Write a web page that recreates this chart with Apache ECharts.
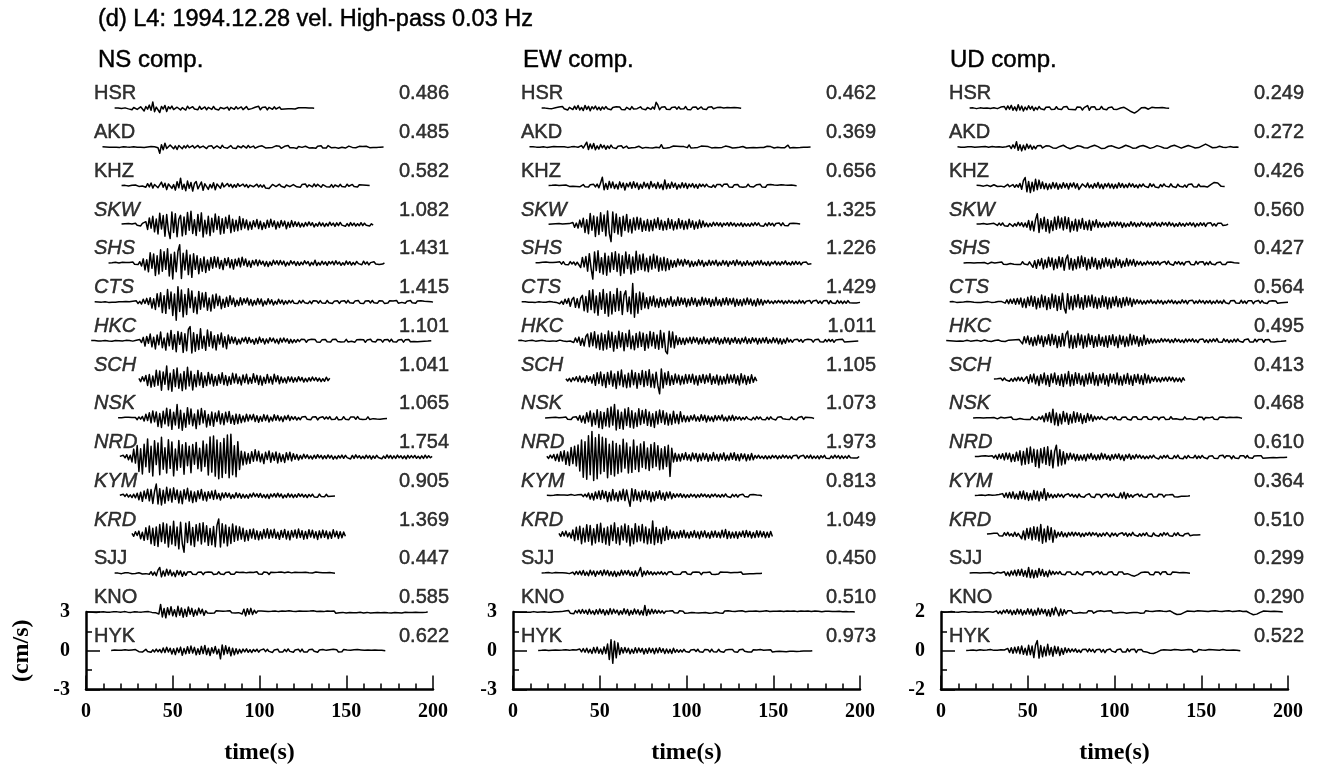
<!DOCTYPE html>
<html>
<head>
<meta charset="utf-8">
<script src="https://cdn.jsdelivr.net/npm/echarts@6/dist/echarts.min.js"></script>
<style>
html, body { margin: 0; padding: 0; background: #ffffff; }
#chart { width: 1317px; height: 767px; }
</style>
</head>
<body>
<div id="chart"></div>
<script>
// Stations, top to bottom
const stations = ['HSR','AKD','KHZ','SKW','SHS','CTS','HKC','SCH','NSK','NRD','KYM','KRD','SJJ','KNO','HYK'];
const italicStations = ['SKW','SHS','CTS','HKC','SCH','NSK','NRD','KYM','KRD'];
// Record start time (s) of each station, and the sample spacing of the traces (s)
const startTimes = [16.5, 9.5, 20.5, 20.5, 13, 5, 3, 30.5, 18.5, 19.5, 19.5, 26.5, 16.5, 0, 14.5];
const sampleStep = 1;
// Time axis
const timeMin = 0, timeMax = 200, timeTick = 50;
// Trace spacing / scale-bar value (cm/s) per component
const nsUnit = 3, ewUnit = 3, udUnit = 2;

// Peak velocity (cm/s) of each trace
const nsPeak = [0.486, 0.485, 0.582, 1.082, 1.431, 1.415, 1.101, 1.041, 1.065, 1.754, 0.905, 1.369, 0.447, 0.585, 0.622];
const ewPeak = [0.462, 0.369, 0.656, 1.325, 1.226, 1.429, 1.011, 1.105, 1.073, 1.973, 0.813, 1.049, 0.450, 0.510, 0.973];
const udPeak = [0.249, 0.272, 0.426, 0.560, 0.427, 0.564, 0.495, 0.413, 0.468, 0.610, 0.364, 0.510, 0.299, 0.290, 0.522];

// Velocity traces, in 0.01 cm/s, one sample every sampleStep seconds from the station start time
// ---- NS component ----
const nsHSR = [1,-3,2,4,-2,-4,3,1,-5,8, -12,6,15,-9,-18,11,4,-21,13,-7, 24,-16,48.6,-27,9,19,-33,14,-6,22, -25,12,-4,17,-10,-15,8,11,-13,5, 9,-14,16,-3,-9,12,-6,4,-11,15, -8,-5,10,-12,7,3,-9,14,-6,8, -13,6,11,-4,-10,9,-15,7,2,-8, 12,-5,-7,10,-11,4,13,-9,6,-3, -10,8,-4,15,-12,5,-6,9,-13,7, 3,-8,11,-6,-2,9,-7,4,-5,6, -4,7,-3,5,-6,2,4,-5,3,-2, 4,-3,2,-4,1,0];
const nsAKD = [1,-2,0,2,-1,3,-2,1,-1,2, -3,1,2,-2,0,3,-1,-2,2,1, -2,3,-1,2,-3,1,0,-2,3,-1, 2,4,-6,-48.5,18,-22,29,-11,-25,16, 21,-14,8,-19,12,6,-13,9,-7,14, -5,-10,11,-8,4,12,-6,-9,7,10, -12,5,-4,9,-11,3,8,-6,-10,13, -3,6,-9,2,11,-7,5,-12,8,1, -6,10,-4,-8,12,-5,3,7,-9,6, 4,-11,9,-2,-7,8,-5,10,-3,-6, 9,-4,6,-10,3,5,-8,11,-6,2, -5,8,-12,4,7,-3,-9,6,10,-7, 3,-5,8,-10,6,-2,9,-7,4,-8, 11,-4,-6,7,-3,9,-10,5,-2,6, -8,4,7,-5,-3,8,-6,2,5,-7, 3,-4,6,-2,-5,4,-3,5,-4,2, -1,2,0];
const nsKHZ = [2,-4,3,5,-2,-5,4,-1,6,-3, -5,7,-2,4,-12,16,-9,21,-18,10, 24,-15,-22,28,-11,19,-30,14,26,-20, 9,-34,31,-16,58.2,-27,12,-38,36,-19, 25,-41,17,33,-24,-12,29,-35,15,21, -28,10,-17,24,-31,13,6,-19,22,-9, -14,18,-6,11,-15,8,-12,16,-4,-10, 13,-7,9,-14,5,11,-8,-3,12,-10, 7,-11,6,-18,-30,-22,-8,10,14,-6, -9,12,-4,8,-13,6,10,-7,-11,9, 15,-8,4,-12,9,-5,13,-10,7,-3, -9,14,-6,11,-4,-12,8,16,-7,5, -10,9,-13,6,3,-8,11,-5,7,-9, 12,-4,-7,10,-6,5,-9,8,-3,6, -5,4,-3,2];
const nsSKW = [3,-5,6,-2,8,-7,4,-9,10,-6, 7,-11,9,-4,22,-38,51,-29,64,-57, 42,-73,88,-35,69,-91,77,-48,-108.2,96, -62,83,-94,41,71,-88,59,-77,93,-44, 102,-69,37,-85,78,-51,90,-96,33,-72, 64,-86,49,-58,81,-38,62,-74,45,-67, 56,-29,71,-63,40,-52,33,-48,61,-39, 44,-27,35,-41,20,-36,29,-18,38,-31, 26,-39,14,-30,33,-22,40,-15,28,-35, 19,-24,31,-12,26,-33,17,-21,30,-16, 22,-14,18,-20,9,-17,15,-11,20,-8, 14,-19,6,-13,17,-10,12,-16,8,-12, 18,-7,11,-15,13,-9,16,-5,10,-14, 7,-12,15,-8,11,-13,6,-10,14,-9, 10,-6,8,-11,5,-4];
const nsSHS = [2,-5,4,-3,7,-4,2,-6,8,-3, 5,-9,6,-4,9,-7,3,-10,12,-21, 34,-52,28,-66,81,-39,72,-95,58,-83, 104,-61,89,-47,112,-98,70,-121,85,-66, 93,143.1,-118,77,-52,101,-88,64,-109,73, -47,58,-81,35,-62,49,-71,26,-54,44, -38,51,-29,46,-40,22,-49,37,-18,42, -34,27,-45,31,-20,39,-28,47,-15,33, -26,18,-31,22,-12,27,-19,24,-9,16, -21,14,-25,11,-17,23,-8,19,-13,21, -10,17,-22,8,-15,20,-6,14,-18,12, -16,9,-11,19,-4,13,-20,7,-12,24, -18,6,-14,16,-9,11,-17,13,-5,15, -12,19,-7,10,-16,4,-13,17,-8,12, -15,6,-11,14,-3,9,-12,16,-7,10, -13,5,-9,12,-6,8,-10,4,-6,3];
const nsCTS = [1,-2,0,3,-1,-2,2,1,-3,2, -1,3,-2,0,2,-3,1,-1,3,-2, 2,-4,6,-3,9,-12,5,-16,21,-11, 28,-19,33,-47,25,-58,64,-36,71,-82, 49,-88,96,-52,77,-104,61,-141.5,118,-73, 92,-115,58,-97,103,-44,86,-79,37,-91, 82,-56,69,-38,74,-63,31,-70,55,-47, 62,-28,45,-52,22,-41,37,-33,49,-19, 30,-35,14,-27,33,-22,26,-9,31,-24, 19,-29,11,-21,27,-16,23,-31,8,-20, 25,-13,18,-24,6,-17,21,-11,15,-19, 9,-14,12,-7,13,-10,4,-12,11,-8, 13,-5,9,-11,7,-13,10,-3,8,-9, 11,-7,3,-10,12,-6,8,-12,5,-4, 9,-11,6,-2,10,-8,13,-6,4,-10, 7,-3,11,-9,5,-12,8,-4,9,-7, 12,-6,4,-9,10,-5,7,-11,3,-8, 10,-4,8,-7,12,-9,5,-3,9,-10, 6,-8,11,-5,3,-9,7,-6,10,-4, 5,-7,4,-3,2,-1];
const nsHKC = [1,-3,2,0,-2,4,-1,-3,2,1, -2,3,-4,1,2,-3,0,4,-2,-1, 3,-4,2,5,-3,-1,4,-6,9,-14, 26,-41,33,-19,52,-47,28,-63,44,-31, 67,-54,21,-72,58,-39,80,-66,47,-85, 71,-28,63,-90,54,-77,88,110.1,-95,62, -81,49,-67,92,-58,35,-74,83,-42,69, -55,38,-71,47,-26,60,-49,31,-62,44, -22,30,-17,26,-29,12,-24,21,-8,27, -19,25,-14,9,-27,18,-21,28,-11,16, -25,13,-18,23,-6,20,-16,12,-24,19, -12,21,-9,15,-20,11,-17,8,-13,10, -7,11,-4,9,-12,6,-8,12,-3,10, -9,5,-11,7,-2,10,-8,4,-10,9, -6,12,-5,8,-10,3,-7,11,-9,6, -4,9,-11,7,-6,10,-3,8,-12,5, -8,11,-6,4,-9,10,-5,7,-11,8, -3,9,-7,12,-8,5,-10,6,-4,9, -11,7,-5,10,-8,3,-6,9,-7,4, -5,6,-3,4,-2,1,0];
const nsSCH = [8,-17,22,-12,31,-46,38,-59,27,-52, 71,-44,66,-83,58,-37,104.1,-79,48,-91, 76,-55,89,-68,42,-86,61,-73,95,-50, 64,-81,37,-56,70,-43,52,-61,28,-47, 55,-33,41,-50,24,-45,36,-28,52,-39, 30,-46,21,-37,48,-26,43,-31,19,-42, 35,-23,40,-34,16,-29,45,-21,32,-38, 27,-44,18,-30,39,-25,22,-35,41,-17, 29,-33,20,-24,12,-27,22,-15,19,-21, 13,-18,22,-10,16,-20,9,-17,14,-12, 19,-8,15,-13,11,-17,6,-14,18,-9, 10];
const nsNSK = [3,-6,4,-2,7,-5,8,-3,6,-9, 5,-11,10,-7,14,-22,31,-18,42,-35, 57,-28,49,-64,36,-71,54,-43,78,-59, 68,-86,47,-52,106.5,-77,61,-93,38,-69, 82,-45,71,-58,33,-80,64,-49,75,-36, 58,-67,29,-54,48,-62,40,-25,57,-44, 35,-50,46,-28,53,-39,21,-47,32,-41, 29,-34,18,-27,31,-22,26,-12,30,-25, 20,-31,14,-23,28,-17,24,-29,9,-21, 27,-15,22,-19,11,-26,17,-10,23,-18, 13,-9,12,-14,6,-11,10,-4,13,-8, 7,-12,9,-5,11,-13,4,-9,12,-7, 10,-6,13,-10,5,-8,11,-12,3,-9, 12,-7,6,-11,9,-4,10,-8,13,-5, 8,-10,4,-7,11,-9,6,-3,9,-6, 5,-8,3,-4,6,-2];
const nsNRD = [5,-9,13,-6,18,-22,14,-38,61,-47, 89,-112,64,-131,98,-76,140,-118,83,-147, 126,-59,109,-138,152,-95,71,-124,133,-88, 117,-146,61,-102,128,-79,95,-134,111,-68, 84,-121,97,-56,113,-90,67,-109,124,-73, 98,-139,155,-117,162,-148,131,-169,110,-158, 144,-126,170,-161,175.4,-137,88,-152,119,-96, 45,-62,38,-54,27,-49,41,-33,56,-29, 44,-37,23,-51,36,-19,47,-40,31,-25, 39,-46,28,-35,18,-42,33,-21,37,-30, 26,-17,19,-24,12,-15,21,-9,17,-13, 8,-16,14,-11,18,-7,13,-15,10,-12, 16,-9,12,-17,6,-14,11,-8,15,-10, 13,-5,9,-15,12,-11,17,-7,10,-13, 6,-12,14,-9,11,-16,8,-10,13,-4, 11,-14,7,-10,16,-8,12,-13,9,-11, 15,-6,10,-12,8,-15,13,-9,11,-7, 12,-10,6,-13,9,-11,14,-8,10,-6, 5];
const nsKYM = [4,-8,11,-5,13,-10,7,-14,12,-16, 20,-31,27,-43,36,-22,51,-39,48,-60, 33,90.5,-64,55,-71,42,-58,66,-37,52, -49,61,-28,45,-56,34,-62,47,-25,58, -41,36,-53,29,-45,38,-22,49,-34,27, -40,31,-19,36,-28,42,-24,17,-33,21, -15,24,-11,19,-22,9,-18,23,-13,17, -20,12,-16,8,-19,14,-10,21,-7,15, -12,18,-14,9,-17,11,-22,13,-8,16, -11,20,-9,14,-18,6,-13,17,-10,12, -15,9,-12,16,-6,13,-11,8,-14,10, -7,12,-9,6,-11,13,-5,9,-8,11, -6,8,-4,5,-2];
const nsKRD = [9,-14,21,-8,26,-33,17,-45,52,-38, 66,-71,48,-84,59,-92,77,-55,90,-68, 81,-97,63,-74,103,-86,58,-111,94,-70, -136.9,88,-62,99,-81,54,-93,76,-49,85, -73,91,-57,68,-84,47,-79,62,-95,71, 120,-96,83,-65,74,-88,57,-70,81,-53, 66,-44,59,-35,48,-52,31,-46,39,-27, 43,-36,28,-41,22,-33,38,-25,44,-30, 35,-24,40,-29,18,-37,31,-22,39,-34, 26,-41,30,-19,35,-28,42,-23,29,-36, 24,-31,37,-20,33,-27,21,-38,28,-25, 34,-22,27,-33,19,-29,36,-18,25,-30, 22,-26,19,-14];
const nsSJJ = [2,-4,1,5,-3,-2,4,-5,3,1, -4,6,-2,-5,4,2,-6,5,-3,7, -8,12,-15,9,-19,24,44.7,-28,17,-22, 31,-14,25,-19,8,-26,21,-12,18,-24, 10,-16,9,-6,11,-8,4,-10,7,-3, 9,-11,5,-7,10,-4,8,-9,3,-6, 11,-5,7,-10,6,-2,9,-8,4,-7, 10,-3,6,-9,8,-5,3,-10,7,-4, 5,-8,11,-6,2,-7,9,-4,6,-10, 8,-3,5,-9,7,-6,10,-2,4,-8, 9,-5,3,-7,8,-4,6,-9,5,-3, 7,-6,4,-8,2,-5,9,-4,6,-7, 3,-5,4,-2,5,-3,2,0];
const nsKNO = [1,-2,0,2,-1,1,-3,2,0,-1, 2,-1,-2,3,-1,0,2,-3,1,2, -2,1,3,-2,-1,2,-3,1,2,-2, 0,3,-1,-2,2,-4,3,1,-3,2, -5,9,-16,58.5,-38,27,-45,33,-21,41, -29,18,-36,44,-25,31,-40,22,-34,39, -17,28,-33,15,-24,30,-12,21,-26,9, -8,6,-10,4,-7,9,-3,8,-6,5, -9,7,-4,10,-6,3,-8,6,-5,9, -15,22,-30,26,-18,28,-20,14,-9,7, -5,8,-3,6,-9,4,-7,5,-2,8, -6,3,-8,7,-4,6,-5,9,-3,5, -7,4,-6,8,-2,5,-9,6,-4,7, -3,9,-5,4,-7,6,-8,3,-5,8, -6,5,-2,7,-9,4,-5,6,-3,5, -8,6,-4,3,-6,8,-5,7,-2,4, -7,5,-3,6,-8,4,-6,9,-4,5, -5,7,-3,4,-6,5,-8,3,-4,6, -5,3,-7,4,-2,6,-4,5,-3,4, -2,3,-4,2,-3,1,-2,1];
const nsHYK = [2,-4,5,-1,3,-6,4,-2,7,-5, 3,-8,6,-4,9,-3,-7,8,-10,5, 11,-6,9,-12,7,-9,13,-8,10,-15, 21,-14,27,-10,19,-25,16,-30,22,-13, 28,-35,18,-24,31,-20,36,-17,26,-32, 15,-27,34,-22,41,-29,19,-37,24,-18, 33,-26,12,-62.2,45,-30,38,-21,27,-39, 20,-31,16,-24,11,-17,13,-9,15,-12, 8,-14,10,-6,12,-11,5,-9,13,-7, 11,-5,9,-13,6,-8,12,-10,4,-9, 10,-7,14,-5,8,-12,6,-4,11,-8, 13,-9,5,-10,7,-6,12,-4,9,-11, 6,-8,10,-5,3,-9,7,-6,11,-4, 8,-10,5,-7,9,-3,6,-8,4,-6, 7,-5,9,-4,6,-7,3,-8,5,-6, 4,-5,6,-3,4,-2,3,-1,0];

// ---- EW component ----
const ewHSR = [2,-3,1,4,-2,5,-3,-1,4,-2, 9,-6,13,-4,11,-14,7,19,-10,16, -8,21,-13,6,-18,22,-9,15,-20,12, -5,17,-12,8,-15,10,-7,13,-4,9, -11,6,-8,12,-3,10,-9,5,-12,7, 4,-10,13,-6,9,-3,-8,11,-5,8, -12,6,3,-9,10,-7,46.2,24,-11,7, -5,12,-8,4,-10,6,-3,9,-7,11, -6,8,-4,13,-9,5,-11,7,-2,9, -8,4,10,-6,3,-9,7,-5,12,-4, -6,5,-3,7,-5,2,-4,6,-2,4, -3,5,-2,3,-1,0];
const ewAKD = [1,-2,2,0,-1,3,-2,1,2,-1, -3,2,0,-2,3,-1,2,-3,1,0, 2,-1,-3,2,1,-2,3,-1,-2,2, 11,-8,14,36.9,-19,24,-12,27,-21,9, -16,20,-7,13,-18,8,-11,15,-5,10, -12,6,-3,9,-8,4,7,-10,5,-6, 8,-4,-7,6,2,-9,5,-3,8,-6, 3,-8,6,-2,7,-5,18,-9,4,-7, 6,-3,-5,8,-2,6,-8,4,-6,3, 9,-5,16,-7,4,-6,8,-3,-5,7, -2,6,-8,3,5,-7,2,-4,8,-6, 4,-3,-6,7,-4,2,5,-8,3,-5, 7,-2,-6,4,16,-8,3,-5,7,-4, 2,-6,5,-3,8,-4,-2,6,-7,3, 5,-8,3,-2,7,-5,4,-6,2,14, -7,4,-3,6,-5,2,-4,3,-2,1, -2,1,0];
const ewKHZ = [2,-4,3,-1,5,-3,2,-6,4,-2, 6,-3,-5,7,-4,8,-6,3,-8,5, 9,-7,4,-10,8,-5,11,-9,13,-16, 24,65.6,-31,18,-27,34,-15,29,-22,11, -25,30,-13,21,-33,17,-8,26,-19,31, -14,22,-28,12,-20,27,-10,18,-24,33, -9,15,-21,26,-17,11,-30,45,-23,16, -19,28,-12,20,-26,9,-17,24,-14,19, -22,13,-8,17,-15,10,-20,14,-6,11, -9,12,-5,8,-11,6,-13,9,-3,10, -7,11,-4,13,-9,5,-12,7,-2,10, -8,6,-11,4,-7,12,-5,9,-10,3, 8,-6,11,-9,4,-12,7,-5,10,-3, 6,-9,4,-7,8,-2,5,-6,3,-4, 5,-3,2,-1];
const ewSKW = [2,-5,4,-1,6,-3,7,-5,3,-8, 5,-9,7,-4,16,-22,11,-28,34,-19, 48,-62,37,-71,85,-44,66,-93,58,-77, 91,-52,73,-88,104,-69,-132.5,97,-61,82, -74,55,-90,63,-46,78,-58,39,-66,51, -42,57,-35,49,-53,28,-45,38,-51,31, -47,40,-26,52,-37,33,-44,24,-39,46, -29,36,-42,21,-34,45,-27,31,-38,25, -33,41,-22,28,-36,19,-30,34,-24,27, -16,12,-18,9,-14,17,-8,15,-11,13, -17,10,-6,14,-12,16,-9,11,-15,7, -10,13,-16,8,-12,6,-14,11,-9,15, -7,12,-10,5,-13,9,-11,14,-6,10, -12,8,-5,11,-9,13,-7,4,-10,8, -6,9,-4,7,-5,3];
const ewSHS = [3,-6,4,-2,7,-5,9,-4,6,-8, 5,-10,8,-3,11,-7,12,-9,4,-11, 13,-6,10,-14,8,21,-33,45,-28,52, -61,74,-39,-122.6,88,-57,96,-71,43,-84, 77,-92,55,-68,81,-47,89,-63,72,-95, 58,-76,87,-41,66,-83,49,-71,92,-54, 63,-48,71,-59,38,-66,54,-45,69,-36, 57,-62,41,-53,46,-58,35,-49,24,-31, 19,-27,33,-14,25,-21,30,-9,22,-28, 16,-24,11,-19,26,-13,21,-25,8,-17, 23,-15,18,-11,24,-20,9,-16,22,-12, 17,-23,13,-8,20,-18,25,-10,14,-21, 11,-16,19,-13,7,-22,15,-9,18,-14, 21,-12,8,-17,14,-19,10,-6,16,-13, 9,-15,12,-7,18,-11,6,-14,13,-10, 15,-8,11,-13,6,-9,10,-7,5,-4];
const ewCTS = [1,-3,2,0,-2,3,-1,2,-3,1, 2,-2,-1,3,-2,1,4,-3,0,2, -3,8,-13,6,-18,22,-11,27,-33,19, 36,-41,25,-45,31,51,-67,42,-78,88, -59,94,-83,47,-102,71,-56,97,-88,64, -109,79,-93,58,-71,104,-66,82,-97,53, 86,-74,39,-91,142.9,-118,66,-87,77,-58, 69,-45,33,-51,40,-28,46,-37,24,-42, 35,-30,19,-38,27,-22,41,-33,16,-29, 38,-25,31,-17,29,-36,22,-27,34,-20, 28,-33,15,-26,37,-21,30,-18,25,-35, 20,-28,36,-24,17,-31,27,-19,33,-23, 26,-16,29,-34,21,-25,18,-30,24,-20, 31,-18,23,-27,14,-32,26,-21,19,-24, 12,-9,14,-11,7,-13,10,-8,12,-6, 11,-14,8,-10,13,-7,9,-12,5,-11, 14,-8,10,-13,6,-9,12,-11,8,-7, 13,-10,7,-12,9,-5,11,-14,10,-8, 6,-11,12,-9,8,-13,7,-10,11,-6, 9,-7,5,-8,4,-3];
const ewHKC = [1,-2,3,0,-3,2,1,-2,4,-1, -3,2,0,-4,3,1,-2,4,-3,2, -1,3,-4,2,5,-3,-2,4,-5,3, -2,9,-14,21,-11,28,-35,17,-40,33, 52,-46,61,-38,70,-55,44,-67,58,-72, 47,-63,75,-51,66,-80,39,-59,73,-48, 62,-77,54,-45,81,-61,36,-70,57,-52, 68,-43,59,-74,48,-56,71,-39,63,-58, 45,-66,79,-53,60,-82,-101.1,74,-49,67, -56,38,-30,24,-27,19,-29,22,-15,26, -21,28,-12,23,-26,17,-24,29,-19,14, -25,20,-11,27,-18,24,-28,13,-22,26, -16,21,-27,18,-13,25,-20,15,-24,19, -12,28,-22,16,-19,23,-9,20,-25,17, -18,22,-14,25,-20,11,-17,24,-13,19, -23,16,-26,12,-20,21,-10,9,-12,7, -8,11,-6,10,-12,5,-9,11,-4,8, -11,7,-5,12,-8,4,-10,9,-7,11, -6,10,-12,5,-8,9,-4,11,-9,6, -7,8,-5,6,-3,2,-1];
const ewSCH = [6,-12,9,-17,14,-8,21,-15,26,-19, 11,-24,29,-13,22,-28,36,-45,52,-31, 58,-47,39,-62,55,-36,66,-51,43,-70, 61,-42,73,-56,35,-64,49,-58,71,-40, 53,-67,46,-38,69,-55,62,-44,75,-59, 41,-63,57,-48,-110.5,82,-66,51,-38,61, -45,29,-37,42,-26,34,-40,25,-33,38, -28,36,-22,41,-35,27,-43,31,-24,39, -30,33,-19,44,-37,23,-29,35,-41,26, -36,21,-32,40,-27,34,-22,38,-31,28, -42,45,-26,32,-38,24,-29,36,-21,17, -13];
const ewNSK = [2,-5,4,-1,6,-3,7,-5,3,-8, 6,-4,9,-7,5,-10,8,-6,11,-15, 21,-30,18,-38,42,-27,56,-61,39,-48, 66,-72,51,-80,45,-59,76,-67,88,-53, 107.3,-91,64,-78,47,-85,71,-56,82,-69, 58,-76,41,-64,73,-49,60,-38,67,-55, 49,-62,35,-71,52,-44,63,-33,58,-46, 40,-53,31,-48,55,-36,29,-42,50,-27, 22,-28,15,-25,19,-13,26,-21,12,-24, 27,-16,23,-29,18,-20,11,-25,21,-14, 20,-12,25,-19,9,-22,17,-15,24,-18, 13,-8,11,-14,6,-10,12,-5,9,-13, 7,-11,13,-6,10,-9,4,-12,8,-10, 11,-5,9,-13,7,-8,12,-4,10,-7, 5,-9,11,-6,8,-12,6,-7,13,-9, 8,-5,6,-4,3,-2];
const ewNRD = [5,-11,14,-8,19,-27,22,-34,41,-30, 48,-57,39,-66,73,-51,84,-69,92,-108, 131,-156,118,-172,164,-137,197.3,-181,149,-168, 175,-129,152,-111,143,-160,98,-135,122,-147, 104,-128,91,-115,137,-86,109,-124,77,-119, 132,-95,84,-113,101,-79,118,-90,69,-105, 96,-82,111,-71,88,-99,64,-93,80,-74, 91,-150,67,-38,29,-33,22,-31,26,-19, 34,-24,18,-29,31,-15,27,-35,21,-28, 30,-20,25,-33,17,-26,35,-22,19,-31, 24,-17,32,-27,14,-23,29,-18,33,-25, 20,-29,26,-13,23,-30,18,-24,27,-21, 12,-9,14,-11,7,-13,10,-15,8,-12, 13,-6,11,-14,9,-10,15,-7,12,-11, 8,-13,10,-5,14,-12,6,-9,13,-10, 11,-8,15,-12,7,-11,9,-14,10,-6, 13,-10,5,-12,8,-9,14,-7,11,-13, 9,-11,7,-10,12,-6,9,-8,5,-7, 4];
const ewKYM = [3,-5,2,-6,4,-1,7,-4,5,-3, 6,-8,4,-7,9,-5,3,-9,8,-6, 10,-7,12,-9,21,-26,18,-33,29,-22, 37,-28,41,-19,33,-45,26,-38,48,-31, 24,-42,35,-29,50,-37,44,-26,-81.3,55, -38,47,-33,28,-44,36,-23,41,-30,33, -46,25,-37,31,-20,39,-28,22,-35,27, -18,30,-24,15,-12,14,-9,16,-13,11, -15,8,-12,13,-7,10,-14,9,-11,15, -6,12,-10,8,-14,11,-5,13,-9,7, -12,10,-8,14,-6,9,-13,11,-7,10, -11,6,-9,12,-5,8,-10,7,-4,9, -6,5,-3,4,-2];
const ewKRD = [9,-15,21,-11,26,-18,13,-28,35,-47, 56,-39,64,-71,48,-58,75,-52,69,-81, 44,-66,78,-55,87,-61,49,-74,58,-83, 72,-47,90,-68,53,-79,65,-42,81,-59, 67,-88,46,-71,84,-56,63,-49,77,-64, 58,-72,43,-67,104.9,-78,55,-61,39,-70, 51,-46,62,-38,35,-29,24,-31,18,-27, 29,-21,33,-25,16,-28,22,-19,30,-24, 20,-32,26,-17,28,-23,14,-30,25,-19, 27,-22,18,-26,33,-20,38,-31,24,-28, 17,-25,21,-30,19,-15,27,-22,31,-18, 23,-27,16,-24,29,-20,26,-17,22,-25, 18,-21,24,-15];
const ewSJJ = [2,-4,3,-1,5,-3,1,-4,6,-2, 3,-5,4,-6,2,5,-3,4,8,-11, 14,-9,17,-13,21,-16,10,-19,23,-12, 18,-24,15,-8,20,-17,25,-11,22,-19, 13,-21,16,-25,9,-18,24,-14,19,-10, 22,-17,12,-23,18,-20,11,45,-26,15, -14,19,-9,12,-13,8,-11,10,-6,13, -10,7,-12,9,-5,11,-8,6,-10,4, -7,9,-4,11,-6,3,-9,8,-5,10, -3,7,-11,5,-8,6,-4,9,-7,5, -9,4,-6,10,-5,7,-3,8,-6,4, -8,5,-10,6,-4,9,-7,3,-5,7, -4,6,-3,5,-2,3,-1,0];
const ewKNO = [1,-2,0,2,-1,3,-2,1,-1,2, -2,1,3,-1,-2,2,0,-3,2,1, -1,3,-2,1,2,-3,1,-1,3,-2, 8,-5,12,-9,6,-14,11,-7,16,-12, 19,-10,14,-18,22,-13,9,-20,17,-15, 24,-11,18,-23,13,-19,26,-16,21,-9, 15,-22,10,-17,25,-14,20,-26,12,-18, 23,-13,17,-21,11,-24,51,-27,19,-15, 22,-12,16,-10,13,-8,9,-11,5,-9, 7,-4,10,-6,3,-8,9,-5,6,-10, 4,-7,8,-3,9,-6,2,-8,7,-5, 10,-4,6,-9,5,-7,8,-2,6,-8, 3,-9,7,-5,10,-4,6,-7,4,-6, 8,-3,9,-6,2,-7,5,-9,6,-4, 7,-5,3,-8,6,-2,9,-6,4,-7, 5,-8,6,-3,7,-5,4,-9,8,-4, 6,-2,8,-7,3,-5,7,-6,5,-3, 7,-6,4,-5,8,-3,6,-7,2,-5, 6,-4,5,-2,4,-6,3,-4,5,-3, 2,-3,4,-2,1,-1,2,0];
const ewHYK = [2,-4,3,-1,5,-3,2,-5,4,-2, 6,-3,4,-7,5,-2,7,-6,3,-5, 8,-4,6,-8,13,-9,17,-12,20,-15, 11,-22,25,-16,28,-19,14,-26,30,-21, 52,-68,86,-97.3,74,-55,61,-29,23,-18, 25,-14,20,-23,12,-19,24,-16,21,-11, 18,-25,15,-20,22,-13,17,-24,19,-15, 23,-12,16,-21,14,-18,11,-22,20,-13, 9,-12,7,-10,11,-5,8,-11,6,-9, 10,-6,12,-8,5,-11,9,-4,7,-10, 12,-7,4,-9,11,-6,8,-12,5,-8, 9,-5,10,-7,3,-11,8,-6,12,-4, 7,-9,5,-10,8,-3,6,-7,9,-5, 4,-8,6,-3,7,-9,5,-6,8,-4, 6,-5,3,-7,5,-4,6,-3,4,-5, 3,-4,5,-2,3,-1,2,-2,0];

// ---- UD component ----
const udHSR = [1,-1,2,0,-2,1,2,-1,0,-2, 1,2,-1,-2,3,0,-2,1,6,-4, 9,-7,12,-5,15,-10,7,-13,18,-9, 11,-14,6,-8,13,-5,10,-12,4,-7, 9,-3,6,-8,5,-2,7,-6,3,-5, 8,-4,2,-7,6,-3,9,-5,1,-6, 4,-8,7,-2,5,-9,3,-4,14,-10, 6,-3,8,-7,2,-5,9,-4,6,-8, 3,-2,7,-5,4,-6,2,1,-3,5, -2,-6,-11,-17,-22,-24.9,-20,-13,-6,2, 6,4,-2,-5,3,5,-3,2,-4,3, -2,4,-3,1,-1,0];
const udAKD = [1,0,-1,2,-1,0,1,-2,1,0, -1,2,0,-1,1,-2,2,0,-1,1, 2,-1,0,-2,1,2,-1,-2,1,0, 6,-8,11,-6,27.2,-17,12,-20,9,-14, 15,-7,10,-12,4,-9,6,-3,8,-5, 2,6,8,5,-1,-5,-8,-6,-2,3, 7,9,5,-2,-6,-9,-7,-3,2,6, 8,4,1,-4,-7,-5,-1,3,7,9, 6,2,-3,-8,-10,-6,-2,4,8,6, 3,-1,-5,-7,-4,0,5,9,7,3, -2,-6,-9,-5,-1,4,6,8,5,1, -3,-7,-6,-2,3,7,5,2,-2,-5, -8,-6,-1,4,7,9,6,2,-3,-6, -4,1,5,8,6,2,-2,-5,-7,-3, 2,6,9,15,12,6,1,-4,-6,-3, 1,4,2,-1,-3,-2,1,2,0,-1, 1,0,-1];
const udKHZ = [2,-3,1,4,-2,-3,3,1,-4,2, 5,-3,-4,6,-2,4,-6,3,7,-5, -3,6,-8,5,-7,12,-18,26,42.6,-31, 22,-35,18,-27,33,-20,29,-14,19,-16, 12,-20,9,-15,17,-11,14,-18,8,-13, 16,-9,11,-17,13,-6,15,-12,10,-19, -14,9,12,-7,14,-10,5,-13,11,-8, 17,-12,8,-15,10,-6,13,-11,9,-14, 7,-12,15,-8,11,-10,6,-9,13,-5, 10,-8,4,-11,7,-5,9,-3,6,-9, 11,-4,8,-7,3,-10,6,-5,9,-2, 7,-6,10,-4,5,-9,8,-3,6,-7, 4,-8,6,-2,9,-5,3,-7,8,-4, 6,-3,5,-7,2,6,11,17,20,14, 6,-3,2,-4];
const udSKW = [2,-4,3,-1,5,-3,1,-5,4,-2, 6,-3,-5,7,-4,8,-6,3,-9,5, 7,-10,4,-8,11,-6,9,-12,8,-14, 21,-28,17,-33,25,56,-41,30,-22,38, -35,26,-43,19,-31,37,-24,42,-18,33, -28,40,-21,35,-38,16,-29,27,-34,23, -19,31,-25,14,-27,22,-30,17,-12,24, -15,11,-13,9,-14,7,-11,15,-8,12, -10,13,-6,11,-15,8,-12,5,-9,14, -7,10,-12,6,-9,13,-4,8,-11,7, -13,9,-5,12,-8,6,-10,11,-3,9, -8,12,-6,7,-11,4,-9,10,-7,5, -9,7,-4,10,-6,8,-12,5,-7,9, -5,8,-10,6,-3,9,-7,4,-8,6, -4,7,-5,3,-2,1];
const udSHS = [1,-3,2,0,3,-2,1,-4,2,-1, 3,-2,4,-1,-3,2,5,-3,1,-4, 4,-2,6,-5,3,-6,4,-1,7,-5, 5,-7,3,-6,8,-4,6,-8,7,16, -21,13,-26,18,-12,24,-29,17,-22,31, -15,27,-33,20,-25,34,-18,29,-36,22, 42.7,-30,25,-35,19,-28,33,-23,37,-16, 29,-34,21,-26,31,-17,24,-30,13,-27, 23,-19,28,-14,20,-25,16,-21,27,-12, 18,-22,11,-16,24,-13,17,-9,19,-15, 10,-7,9,-11,5,-8,11,-4,7,-10, 8,-5,10,-9,3,-7,9,-6,11,-4, 6,-10,8,-3,9,-7,5,-9,6,-2, 9,-6,4,-8,10,-5,7,-3,8,-9, 5,-7,9,-4,6,-8,3,-5,7,-6, 4,-6,5,-2,6,-4,3,-2,1,0];
const udCTS = [1,-1,2,0,-2,1,-1,2,0,-1, 2,-2,1,0,-1,3,-2,1,-2,2, 0,-3,2,1,-2,3,-1,-2,3,-1, 2,8,-6,11,-9,14,-7,16,-12,18, -10,21,-26,15,-29,24,-18,31,-22,27, -35,19,-28,36,-24,30,-39,22,-33,41, -27,35,-44,29,-38,45,-31,-56.4,43,-36, 28,-40,33,-25,39,-30,22,-37,34,-26, 31,-21,36,-29,24,-33,19,-27,32,-23, 26,-35,21,-30,25,-18,29,-24,17,-28, 22,-19,25,-16,20,-23,14,-10,12,-8, 9,-11,6,-10,8,-5,11,-7,4,-9, 10,-6,8,-11,5,-7,9,-4,10,-8, 6,-9,4,-7,11,-5,8,-10,7,-3, 9,-8,5,-6,10,-4,7,-9,6,-5, 8,-10,4,-7,9,-6,5,-8,10,-4, 6,-9,7,-3,8,-5,4,-7,9,-6, 5,-8,6,-4,7,-9,3,-5,8,-6, 7,-4,5,-8,4,-6,6,-3,5,-7, 3,-4,5,-2,2,-1];
const udHKC = [1,-2,0,2,-1,3,-2,1,-1,2, -2,1,3,-1,-2,2,0,-3,2,1, -3,2,4,-2,-1,3,-4,2,1,-3, 4,-2,-3,5,-4,2,3,-5,4,-2, 5,-4,6,12,-16,21,-11,24,-19,15, -26,18,-22,28,-14,25,-30,20,-17,31, -24,34,-19,27,-35,22,-29,38,-26,33, 49.5,-36,29,-40,24,-33,37,-21,30,-38, 25,-31,35,-18,27,-34,21,-28,32,-23, 18,-29,24,-33,26,-19,31,-25,20,-35, 28,-17,23,-30,19,-26,34,-21,27,-16, 22,-28,15,-24,29,-18,12,-14,9,-11, 7,-10,5,-8,11,-6,9,-4,8,-10, 6,-9,11,-5,7,-8,4,-10,9,-6, 8,-4,10,-7,5,-9,6,-3,9,-8, 5,-10,7,-6,9,-4,11,-7,3,-8, 10,-5,6,-9,4,-7,8,-6,9,-3, 7,-8,5,-4,9,-6,3,-7,8,-5, 6,-4,7,-8,5,-3,6,-5,4,-6, 3,-4,2,-3,1,-1,0];
const udSCH = [3,-6,4,-2,7,-5,8,-3,6,-9, 5,-10,8,-7,12,-6,11,-9,4,15, -20,24,-13,28,-22,17,-31,25,-18,33, -27,21,-35,29,-16,34,-24,19,-30,26, -36,28,-22,41.3,-33,25,-29,35,-20,31, -26,18,-34,27,-23,32,-19,36,-28,21, -31,24,-17,30,-25,20,-33,28,-15,26, -22,34,-27,16,-29,23,-20,31,-24,18, -30,25,-14,27,-21,19,-26,29,-17,22, -18,12,-9,14,-11,8,-13,10,-7,12, -9,13,-6,11,-12,8,-10,7,-13,9, -6];
const udNSK = [1,-3,2,0,3,-2,1,-4,2,-1, 3,-2,4,-1,-3,2,5,-3,1,-4, 4,-2,6,-5,3,-6,4,-1,7,-5, 5,-7,3,-6,8,-4,6,-8,7,-5, 12,-18,25,-14,30,-22,46.8,-33,27,-38, 21,-29,35,-17,26,-31,19,-24,33,-20, 28,-16,23,-27,14,-21,25,-12,18,-15, 10,-7,8,-5,9,-3,6,-8,4,-6, 7,-4,9,-6,3,-8,5,-2,7,-5, 4,-9,6,-3,8,-5,2,-7,6,-4, 8,-5,3,-6,7,-2,5,-8,4,-3, 6,-7,2,-5,8,-4,6,-3,5,-7, 3,-6,7,-4,5,-2,8,-6,3,-5, 7,-3,5,-8,4,-6,2,-4,6,-5, 4,-7,5,-2,6,-4,3,-6,5,-3, 4,-2,5,-3,2,0];
const udNRD = [2,-4,3,-1,5,-3,6,-2,4,-6, 7,-5,9,-12,14,-8,17,-15,21,-11, 19,-24,13,-22,25,-18,32,-41,28,-37, 45,-33,51,-27,40,-48,36,-55,42,-30, 49,-38,53,-44,35,-56,29,61,-46,38, -41,27,-35,18,-14,20,-11,16,-19,13, -17,9,-15,12,-20,14,-8,18,-12,10, -16,11,-13,19,-9,15,-11,8,-17,12, -10,14,-7,16,-13,9,-18,11,-6,15, -12,8,-9,13,-5,10,-7,6,-9,4, -8,7,-5,9,-3,6,-10,5,-7,8, -4,9,-6,3,-8,7,-5,10,-6,4, -9,5,-7,8,-3,6,-4,9,-8,5, -6,8,-3,7,-9,4,-5,6,-7,3, -8,6,-4,9,-5,7,-3,5,-9,6, -5,4,-8,7,-3,6,-5,8,-4,3, -7,5,-4,6,-2,7,-6,4,-5,3, -4,5,-3,6,-4,2,-3,4,-2,1, -1];
const udKYM = [1,-3,2,0,4,-2,1,-3,5,-2, 3,-5,4,-1,6,-4,11,-8,14,-10, 17,-12,20,-15,9,-18,22,-14,25,-19, 16,-24,12,-21,27,-17,23,-26,19,-13, 36.4,-22,15,-9,8,-11,6,-8,10,-5, 7,-9,4,-6,10,-3,8,-7,5,-10, 9,-4,6,-8,3,-7,10,-5,4,-9, 8,-2,6,-10,5,-3,9,-6,7,-4, 10,-6,4,-9,14,-11,18,-15,12,-7, 5,-8,3,-6,9,-4,7,-5,2,-8, 6,-4,9,-7,3,-5,8,-2,6,-7, 4,-6,5,-3,7,-5,2,-6,4,-3, 5,-2,3,-1,0];
const udKRD = [2,-5,4,-1,6,-3,7,-6,3,-8, 9,-5,11,-7,4,-10,12,-9,6,15, -22,18,-27,31,-19,34,-28,40,-24,37, -33,51,-45,29,-38,42,-26,35,-40,22, -17,12,-9,14,-11,7,-13,10,-6,12, -8,11,-5,9,-12,6,-10,8,-4,11, -7,10,-3,8,-11,5,-9,7,-6,10, 14,-12,8,-5,6,-9,3,-7,9,-4, 8,-10,5,-6,11,-3,7,-9,4,-8, 6,-5,9,-7,3,-10,8,-4,6,-9, 5,-7,10,-3,8,-6,4,-9,7,-5, 9,-4,6,-8,3,-5,7,-6,4,-3, 5,-2,3,-1];
const udSJJ = [1,-3,2,0,3,-2,1,-4,2,-1, 3,-2,4,-1,-3,2,5,-3,1,-4, 8,-11,6,-14,12,-9,16,-13,18,-10, 21,-15,13,-19,29.9,-22,17,-24,14,-20, 25,-12,19,-16,9,-18,15,-8,10,-6, 7,-4,9,-5,3,-8,6,-2,7,-5, 4,-7,8,-3,6,-9,5,-4,8,-2, 6,-8,3,-5,9,-4,7,-6,2,-7, 5,-3,8,-6,4,-9,7,-2,6,-5, 3,-2,-6,-10,-14,-15,-12,-7,-2,4, 8,6,-3,5,-6,4,-8,7,-3,5, -7,6,-4,8,-5,3,-6,7,-2,5, -4,3,-2,4,-3,2,-1,0];
const udKNO = [1,0,-1,1,0,-1,2,-1,0,1, -1,0,1,-2,1,0,-1,1,0,-1, 1,-1,0,2,-1,0,1,-2,1,0, -1,1,6,-8,4,-10,9,-5,12,-7, 10,-14,8,-12,15,-9,13,-16,7,-11, 17,-10,14,-18,9,-15,20,-12,16,-8, 13,-19,11,-22,18,-14,24,29,-20,15, -17,12,-9,6,-4,7,-5,3,-6,4, -3,6,-5,2,-4,7,-3,5,-6,2, 4,-5,6,-2,3,-6,5,-3,7,-4, 2,-5,4,-3,6,-2,5,-6,3,-4, 6,-3,5,-2,4,-6,3,-5,7,-3, 4,-6,2,-4,5,-3,6,-2,4,-5, 3,-4,6,-2,-5,-9,-13,-15,-12,-8, -3,2,5,-2,4,-5,3,-4,6,-2, 5,-3,4,-6,2,-4,5,-3,6,-2, 4,-5,3,-2,5,-4,6,-3,2,-5, 4,-3,6,-2,3,-5,4,-3,-6,-10, -14,-15,-11,-6,-2,3,5,-2,4,-3, 2,-3,4,-1,3,-2,1,0];
const udHYK = [1,-3,2,0,4,-2,1,-3,5,-2, 3,-5,4,-1,6,-4,2,-5,3,-6, 5,-2,4,-6,12,-9,16,-13,18,-11, 21,-15,25,-18,13,-22,28,-20,24,-35, 30,52.2,-38,27,-31,19,-26,33,-21,17, -28,23,-14,20,-25,12,-18,15,-9,11, -7,9,-5,10,-8,4,-9,6,-3,8, -6,10,-4,7,-9,5,-3,8,-7,6, -10,4,-6,9,-2,7,-8,5,-4,9, -6,3,-7,10,-5,6,-2,8,-9,5, -3,7,-4,2,-6,-10,-13,-15,-14,-11, -7,-3,2,6,5,-2,4,-6,3,-5, 7,-3,5,-4,2,-6,4,-3,6,-2, 5,-6,3,-4,7,-2,4,-5,3,-6, 6,-3,5,-2,4,-5,3,-4,6,-2, 3,-4,2,-3,4,-2,3,-1,0];

const nsTraces = [nsHSR, nsAKD, nsKHZ, nsSKW, nsSHS, nsCTS, nsHKC, nsSCH, nsNSK, nsNRD, nsKYM, nsKRD, nsSJJ, nsKNO, nsHYK];
const ewTraces = [ewHSR, ewAKD, ewKHZ, ewSKW, ewSHS, ewCTS, ewHKC, ewSCH, ewNSK, ewNRD, ewKYM, ewKRD, ewSJJ, ewKNO, ewHYK];
const udTraces = [udHSR, udAKD, udKHZ, udSKW, udSHS, udCTS, udHKC, udSCH, udNSK, udNRD, udKYM, udKRD, udSJJ, udKNO, udHYK];

const panels = [
  { title: 'NS comp.', traces: nsTraces, peaks: nsPeak, unit: nsUnit },
  { title: 'EW comp.', traces: ewTraces, peaks: ewPeak, unit: ewUnit },
  { title: 'UD comp.', traces: udTraces, peaks: udPeak, unit: udUnit }
];

// ---- layout (pixels) ----
const panelLeft = [86, 513, 941];
const panelWidth = 347;
const titleLeft = [98, 523, 950];
const plotBottom = 77.5;   // distance of the time axis from the bottom edge
const scaleTop = 612;      // top of the scale bar box
const traceTop = 69.5;     // top of the trace area (one trace spacing above HSR)

const sansFont = '"Liberation Sans", Arial, Helvetica, sans-serif';
const serifFont = '"Liberation Serif", "Times New Roman", serif';
// a hairline outline in the text colour gives the lettering a slightly heavier stroke
const heavyText = { textBorderColor: '#000', textBorderWidth: 0.45 };

const grids = [], xAxes = [], yAxes = [], series = [];
const titles = [{
  text: '(d) L4: 1994.12.28 vel. High-pass 0.03 Hz',
  left: titleLeft[0], top: 8, padding: 0,
  textStyle: Object.assign({ fontFamily: sansFont, fontSize: 23.5, fontWeight: 'normal', color: '#000' }, heavyText)
}];

panels.forEach((p, pi) => {
  const n = stations.length;
  // trace area
  grids.push({ left: panelLeft[pi], width: panelWidth, top: traceTop, bottom: plotBottom, containLabel: false });
  // scale box with visible axes
  grids.push({ left: panelLeft[pi], width: panelWidth, top: scaleTop, bottom: plotBottom, containLabel: false });
  const gTrace = pi * 2, gScale = pi * 2 + 1;

  xAxes.push({ gridIndex: gTrace, type: 'value', min: timeMin, max: timeMax, show: false });
  yAxes.push({ gridIndex: gTrace, type: 'value', min: -p.unit, max: n * p.unit, show: false });

  const axisColor = '#000';
  xAxes.push({
    gridIndex: gScale, type: 'value', min: timeMin, max: timeMax, interval: timeTick,
    axisLine: { show: true, onZero: false, lineStyle: { color: axisColor, width: 2.5 } },
    axisTick: { show: true, inside: true, length: 14, lineStyle: { color: axisColor, width: 1.5 } },
    minorTick: { show: true, splitNumber: 5, length: 6, lineStyle: { color: axisColor, width: 1.5 } },
    splitLine: { show: false },
    axisLabel: { show: true, showMinLabel: true, showMaxLabel: true, margin: 12,
      fontFamily: serifFont, fontWeight: 'bold', fontSize: 20, color: '#000' },
    name: 'time(s)', nameLocation: 'middle', nameGap: 51,
    nameTextStyle: { fontFamily: serifFont, fontWeight: 'bold', fontSize: 24, color: '#000' }
  });
  yAxes.push({
    gridIndex: gScale, type: 'value', min: -p.unit, max: p.unit, interval: p.unit,
    axisLine: { show: true, onZero: false, lineStyle: { color: axisColor, width: 2.5 } },
    axisTick: { show: true, inside: true, length: 14, lineStyle: { color: axisColor, width: 1.5 } },
    minorTick: { show: true, splitNumber: 2, length: 6, lineStyle: { color: axisColor, width: 1.5 } },
    splitLine: { show: false },
    axisLabel: { show: true, showMinLabel: true, showMaxLabel: true, margin: 16,
      fontFamily: serifFont, fontWeight: 'bold', fontSize: 20, color: '#000' },
    name: pi === 0 ? '(cm/s)' : '', nameLocation: 'middle', nameGap: 52, nameRotate: 90,
    nameTextStyle: { fontFamily: serifFont, fontWeight: 'bold', fontSize: 24, color: '#000' }
  });

  titles.push({
    text: p.title, left: titleLeft[pi], top: 48, padding: 0,
    textStyle: Object.assign({ fontFamily: sansFont, fontSize: 24, fontWeight: 'normal', color: '#000' }, heavyText)
  });

  // one line per station, each raised by a whole number of trace spacings
  p.traces.forEach((trace, si) => {
    const base = (n - 1 - si) * p.unit;
    const t0 = startTimes[si];
    series.push({
      type: 'line', xAxisIndex: gTrace, yAxisIndex: gTrace,
      data: trace.map((v, k) => [t0 + k * sampleStep, base + v / 100]),
      symbol: 'none', showSymbol: false, silent: true, animation: false,
      lineStyle: { color: '#000', width: 1.5, join: 'round' }, z: 3
    });
  });

  // station names at the left and peak values at the right of each trace
  const textBase = Object.assign({ fontFamily: sansFont, fontSize: 20, color: '#000' }, heavyText);
  series.push({
    type: 'scatter', xAxisIndex: gTrace, yAxisIndex: gTrace, symbolSize: 0, silent: true, animation: false,
    data: stations.map((s, si) => ({
      value: [timeMin, (n - 1 - si) * p.unit],
      label: Object.assign({ show: true, position: 'inside', align: 'left', verticalAlign: 'middle',
        offset: [8, -14.5], formatter: s,
        fontStyle: italicStations.includes(s) ? 'italic' : 'normal' }, textBase)
    })), z: 4
  });
  series.push({
    type: 'scatter', xAxisIndex: gTrace, yAxisIndex: gTrace, symbolSize: 0, silent: true, animation: false,
    data: p.peaks.map((v, si) => ({
      value: [timeMax, (n - 1 - si) * p.unit],
      label: Object.assign({ show: true, position: 'inside', align: 'right', verticalAlign: 'middle',
        offset: [16, -14.5], formatter: v.toFixed(3) }, textBase)
    })), z: 4
  });
});

const chart = echarts.init(document.getElementById('chart'), null, { renderer: 'canvas', width: 1317, height: 767 });
chart.setOption({
  backgroundColor: '#ffffff',
  animation: false,
  title: titles,
  grid: grids,
  xAxis: xAxes,
  yAxis: yAxes,
  series: series
});
</script>
</body>
</html>
